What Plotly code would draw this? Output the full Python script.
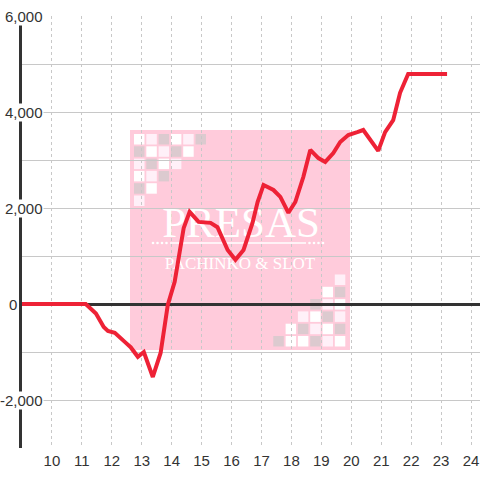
import plotly.graph_objects as go

# ---- data ----
hours = [9.0, 11.13, 11.47, 11.73, 11.87, 12.1, 12.47, 12.63, 12.87, 13.07, 13.37,
         13.63, 13.87, 14.1, 14.4, 14.6, 14.9, 15.3, 15.53, 15.87, 16.13, 16.4,
         16.7, 16.87, 17.07, 17.4, 17.63, 17.9, 18.13, 18.4, 18.63, 18.9, 19.13,
         19.4, 19.63, 19.9, 20.2, 20.4, 20.9, 21.13, 21.4, 21.63, 21.9, 23.2]
balance = [0, 0, -200, -480, -560, -600, -810, -900, -1100, -1000, -1520,
           -1020, -20, 460, 1580, 1920, 1710, 1690, 1600, 1125, 920, 1125,
           1690, 2125, 2480, 2375, 2230, 1900, 2125, 2650, 3210, 3040, 2960,
           3145, 3375, 3520, 3580, 3625, 3190, 3580, 3830, 4400, 4790, 4790]
x_ticks = list(range(10, 25))
x_ticktext = [str(v) for v in x_ticks]
y_ticks = [6000, 4000, 2000, 0, -2000]
y_ticktext = ["6,000", "4,000", "2,000", "0", "-2,000"]

X_RANGE = [9.0, 24.3]
Y_RANGE = [-3000, 6000]

# plot area in window pixels
W, H = 480, 480
PL, PT, PR, PB = 22, 16, 480, 448
L, T, R, B = PL, PT, W - PR, H - PB
PW, PH = PR - PL, PB - PT


def px(xp):
    return (xp - PL) / PW


def py(yp):
    return (PB - yp) / PH


def to_data_x(xp):
    return X_RANGE[0] + px(xp) * (X_RANGE[1] - X_RANGE[0])


def to_data_y(yp):
    return Y_RANGE[0] + py(yp) * (Y_RANGE[1] - Y_RANGE[0])


shapes = []
# watermark background
shapes.append(dict(type="rect", xref="paper", yref="paper", layer="below",
                   x0=px(130), x1=px(350), y0=py(350), y1=py(130),
                   fillcolor="#ffcbdb", line=dict(width=0)))

COL = {"w": "#ffffff", "p": "#fff0f8", "g": "#dccacf"}
tl = ["wpgwpg",
      "gwpgw.",
      "pgwp..",
      "wpg...",
      "gw....",
      "p....."]
br = [".....p",
      "....wg",
      "...gpw",
      "..pwgp",
      ".wgpwg",
      "gwwgpw"]
pitch, sz = 12.3, 10.5
for grid, ox, oy in [(tl, 134, 134), (br, 273.3, 274.5)]:
    for r, row in enumerate(grid):
        for c, ch in enumerate(row):
            if ch == ".":
                continue
            x0 = ox + c * pitch
            y0 = oy + r * pitch
            shapes.append(dict(type="rect", xref="paper", yref="paper", layer="below",
                               x0=px(x0), x1=px(x0 + sz), y0=py(y0 + sz), y1=py(y0),
                               fillcolor=COL[ch], line=dict(width=0)))

# decorative rule with dots under the logo
shapes.append(dict(type="line", xref="paper", yref="paper", layer="below",
                   x0=px(170), x1=px(306), y0=py(243), y1=py(243),
                   line=dict(color="#ffffff", width=1.5)))
for cx in [153, 157.5, 162, 166.5, 309.5, 314, 318.5, 323]:
    shapes.append(dict(type="circle", xref="paper", yref="paper", layer="below",
                       x0=px(cx - 1.3), x1=px(cx + 1.3), y0=py(243 + 1.3), y1=py(243 - 1.3),
                       fillcolor="#ffffff", line=dict(width=0)))

fig = go.Figure()

# watermark text (below the line)
fig.add_trace(go.Scatter(
    x=[to_data_x(241), to_data_x(240)],
    y=[to_data_y(226), to_data_y(265)],
    mode="text", text=["PRESAS", "PACHINKO &amp; SLOT"],
    textfont=dict(family="Liberation Serif", size=[43, 17], color="#ffffff"),
    hoverinfo="skip", showlegend=False, cliponaxis=False))

fig.add_trace(go.Scatter(
    x=hours, y=balance, mode="lines",
    line=dict(color="#ee2236", width=4),
    hoverinfo="skip", showlegend=False))

annotations = []
for v, t in zip(y_ticks, y_ticktext):
    if t == "0":
        annotations.append(dict(x=px(7.5), y=v, xref="paper", yref="y", text=t,
                                showarrow=False, xanchor="left", yanchor="middle",
                                bgcolor="#ffffff", borderpad=0,
                                font=dict(family="Liberation Sans", size=15, color="#333333")))
    else:
        annotations.append(dict(x=px(44), y=v, xref="paper", yref="y", text=t,
                                showarrow=False, xanchor="right", yanchor="middle",
                                bgcolor="#ffffff", borderpad=0,
                                font=dict(family="Liberation Sans", size=15, color="#333333")))

fig.update_layout(
    width=W, height=H,
    margin=dict(l=L, r=R, t=T, b=B),
    paper_bgcolor="#ffffff", plot_bgcolor="#ffffff",
    shapes=shapes, annotations=annotations,
    font=dict(family="Liberation Sans", size=15, color="#333333"),
    hovermode=False,
    xaxis=dict(range=X_RANGE, tickmode="array", tickvals=x_ticks, ticktext=x_ticktext,
               showgrid=True, gridcolor="#c8c8c8", gridwidth=1, griddash="3px,3px",
               zeroline=False, showline=False, ticks="", ticklabelstandoff=2,
               tickfont=dict(family="Liberation Sans", size=15, color="#333333")),
    yaxis=dict(range=Y_RANGE, tickmode="linear", tick0=0, dtick=1000,
               showgrid=True, gridcolor="#c8c8c8", gridwidth=1,
               showticklabels=False, ticks="",
               zeroline=True, zerolinecolor="#333333", zerolinewidth=3,
               showline=True, linecolor="#333333", linewidth=3),
)

fig.write_html("out.html",
               config={"displayModeBar": False},
               post_script="document.body.style.margin='0px';document.body.style.overflow='hidden';")
